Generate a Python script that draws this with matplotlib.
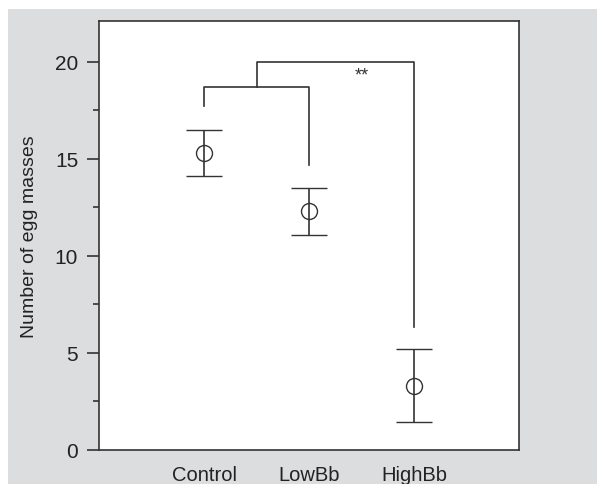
import numpy as np
import matplotlib.pyplot as plt
from matplotlib.patches import Rectangle

groups = ['Control', 'LowBb', 'HighBb']
means = [15.3, 12.3, 3.3]
upper = [16.5, 13.5, 5.2]
lower = [14.1, 11.1, 1.45]

# significance brackets (y levels)
br_low_y = 18.7
br_ctrl_start = 17.7
br_lowbb_end = 14.7
br_top_y = 20.0
br_high_end = 6.35
star_y = 19.3

plt.rcParams['font.family'] = ['Liberation Sans', 'DejaVu Sans']
col = '#333333'

fig = plt.figure(figsize=(5.97, 4.85), dpi=100, facecolor='white')
fig.patches.append(Rectangle((8/597, 0), 1, 475/485, transform=fig.transFigure,
                             facecolor='#dcdddf', edgecolor='none', zorder=-5))
ax = fig.add_axes([99/597, 34/485, 420/597, 429/485])
ax.set_facecolor('white')

x = np.arange(1, len(groups) + 1)
m = np.array(means)
yerr = [m - np.array(lower), np.array(upper) - m]
ax.errorbar(x, m, yerr=yerr, fmt='o', mfc='none', mec=col, ms=11.5, mew=1.0,
            ecolor=col, elinewidth=1.2, capsize=13, capthick=1.2, color=col)

# brackets
ax.plot([1, 1, 2, 2], [br_ctrl_start, br_low_y, br_low_y, br_lowbb_end], color=col, lw=1.2)
ax.plot([1.5, 1.5, 3, 3], [br_low_y, br_top_y, br_top_y, br_high_end], color=col, lw=1.2)
ax.text(2.5, star_y, '**', ha='center', va='center', fontsize=13, color=col)

ax.set_xlim(0, 4)
ax.set_ylim(0, 22.1)
ax.set_xticks(x)
ax.set_xticklabels(groups, fontsize=14.5)
ax.tick_params(axis='x', length=0, pad=11, colors='#222222')
ax.set_yticks([0, 5, 10, 15, 20])
ax.set_yticks([2.5, 7.5, 12.5, 17.5], minor=True)
ax.tick_params(axis='y', which='major', length=9, width=1.2, color=col, labelsize=15, pad=6,
               labelcolor='#222222')
ax.tick_params(axis='y', which='minor', length=4.5, width=1.2, color=col)
for s in ax.spines.values():
    s.set_color(col)
    s.set_linewidth(1.2)
ax.set_ylabel('Number of egg masses', fontsize=14, color='#222222', labelpad=12)

fig.savefig('out.png', dpi=100)
